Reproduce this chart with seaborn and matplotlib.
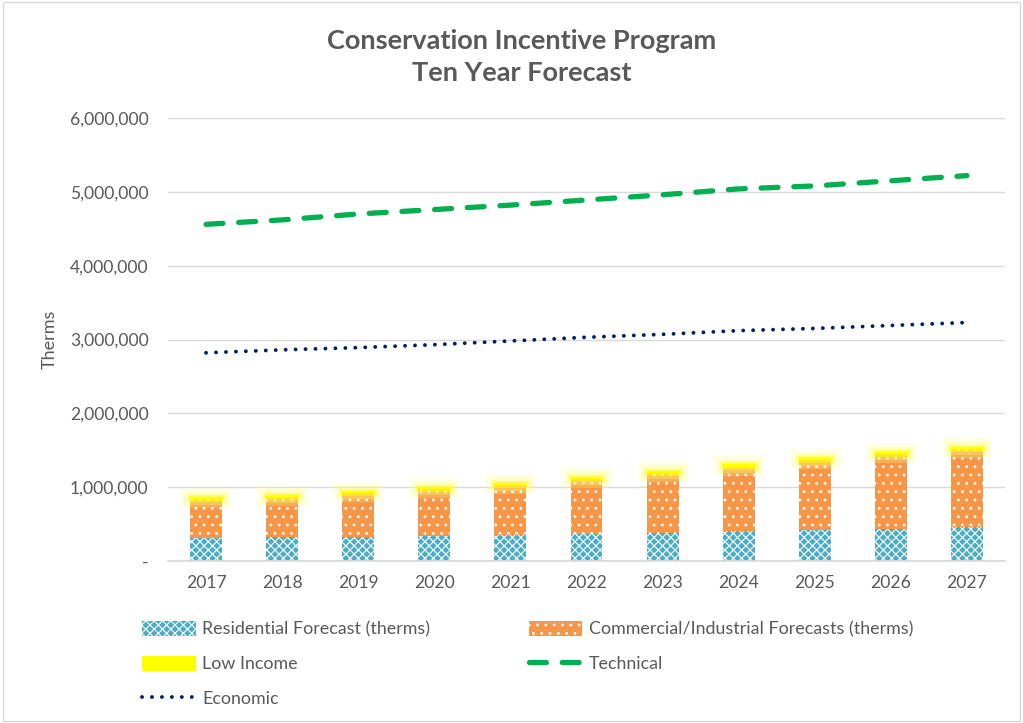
import numpy as np
import pandas as pd
import matplotlib
matplotlib.use("Agg")
import matplotlib.pyplot as plt
import matplotlib.patheffects as pe
from matplotlib.patches import Patch, Rectangle
from matplotlib.lines import Line2D
import seaborn as sns

years = ["2017", "2018", "2019", "2020", "2021", "2022", "2023", "2024", "2025", "2026", "2027"]
residential = [316000, 329000, 330000, 343000, 352000, 366000, 383000, 406000, 424000, 437000, 460000]
commercial = [520000, 542000, 588000, 628000, 677000, 741000, 805000, 871000, 944000, 1012000, 1053000]
low_income = [25000, 26000, 27000, 28000, 29000, 30000, 31000, 32000, 33000, 34000, 35000]
technical = [4560000, 4620000, 4700000, 4760000, 4820000, 4890000, 4960000, 5040000, 5080000, 5150000, 5220000]
economic = [2820000, 2860000, 2890000, 2930000, 2980000, 3030000, 3070000, 3120000, 3150000, 3190000, 3230000]

title = "Conservation Incentive Program\nTen Year Forecast"
ylabel = "Therms"
labels = ["Residential Forecast (therms)", "Commercial/Industrial Forecasts (therms)",
          "Low Income", "Technical", "Economic"]

sns.set_theme(style="white")
plt.rcParams["font.family"] = ["Lato", "DejaVu Sans"]
plt.rcParams["hatch.linewidth"] = 0.8

GREY = "#595959"
C_RES = "#4BACC6"
C_COM = "#F79646"
C_LOW = "#FFFF00"
C_TECH = "#00B050"
C_ECO = "#002060"
H_RES = "xxxx"
H_COM = ".."

df = pd.DataFrame({"year": years, "res": residential, "com": commercial, "low": low_income})
df["res_com"] = df["res"] + df["com"]

fig = plt.figure(figsize=(10.23, 7.23), dpi=100)
ax = fig.add_axes([168 / 1023, 1 - 561 / 723, (1005 - 168) / 1023, (561 - 118) / 723])

bw = 0.42
sns.barplot(data=df, x="year", y="res", ax=ax, color=C_RES, width=bw,
            edgecolor="white", linewidth=0, hatch=H_RES, saturation=1)
sns.barplot(data=df, x="year", y="com", ax=ax, color=C_COM, width=bw,
            bottom=df["res"].values, edgecolor="white", linewidth=0, hatch=H_COM, saturation=1)
glow = [pe.Stroke(linewidth=13, foreground="#FFFF99", alpha=0.22),
        pe.Stroke(linewidth=8, foreground="#FFFF66", alpha=0.3),
        pe.Stroke(linewidth=3.5, foreground="#FFFF00", alpha=0.5),
        pe.Normal()]
sns.barplot(data=df, x="year", y="low", ax=ax, color=C_LOW, width=bw,
            bottom=df["res_com"].values, linewidth=0, saturation=1, path_effects=glow)

xpos = np.arange(len(years))
sns.lineplot(x=xpos, y=technical, ax=ax, color=C_TECH, linewidth=3.8,
             linestyle=(0, (3.2, 3.0)), dash_capstyle="round")
sns.lineplot(x=xpos, y=economic, ax=ax, color=C_ECO, linewidth=2.8,
             linestyle=(0, (0.01, 2.55)), dash_capstyle="round")

ax.set_xlim(-0.5, len(years) - 0.5)
ax.set_ylim(0, 6000000)
yt = np.arange(0, 6000001, 1000000)
ax.set_yticks(yt)
ax.set_yticklabels(["-"] + [f"{v:,.0f}" for v in yt[1:]])
ax.set_xticks(xpos)
ax.set_xticklabels(years)
ax.tick_params(axis="y", colors=GREY, labelsize=12.6, length=0, pad=14)
ax.tick_params(axis="x", colors=GREY, labelsize=12.6, length=0, pad=10)
ax.grid(axis="y", color="#D9D9D9", linewidth=1)
ax.set_axisbelow(True)
for s in ["top", "right", "left"]:
    ax.spines[s].set_visible(False)
ax.spines["bottom"].set_color("#D9D9D9")
ax.set_xlabel("")
ax.set_ylabel(ylabel, color=GREY, fontsize=13, labelpad=9)

fig.text(522 / 1023, 1 - 57 / 723, title, ha="center", va="center",
         fontsize=19.5, fontweight="bold", color=GREY, linespacing=1.4)

handles = [
    Patch(facecolor=C_RES, edgecolor="white", hatch=H_RES, linewidth=0),
    Patch(facecolor=C_LOW, linewidth=0),
    Line2D([], [], color=C_ECO, linewidth=2.8, linestyle=(0, (0.01, 2.55)), dash_capstyle="round"),
    Patch(facecolor=C_COM, edgecolor="white", hatch=H_COM, linewidth=0),
    Line2D([], [], color=C_TECH, linewidth=3.8, linestyle=(0, (3.2, 3.0)), dash_capstyle="round"),
]
lab = [labels[0], labels[2], labels[4], labels[1], labels[3]]
leg = fig.legend(handles, lab, loc="upper left", bbox_to_anchor=(126 / 1023, 1 - 605 / 723),
                 ncol=2, frameon=False, fontsize=12.9, handlelength=3.0, handleheight=0.9,
                 handletextpad=0.35, columnspacing=5.5, labelspacing=1.0)
for t in leg.get_texts():
    t.set_color(GREY)

fig.patches.append(Rectangle((0.003, 0.003), 0.994, 0.994, transform=fig.transFigure,
                             fill=False, edgecolor="#D9D9D9", linewidth=1))

fig.savefig("out.png", dpi=100)
